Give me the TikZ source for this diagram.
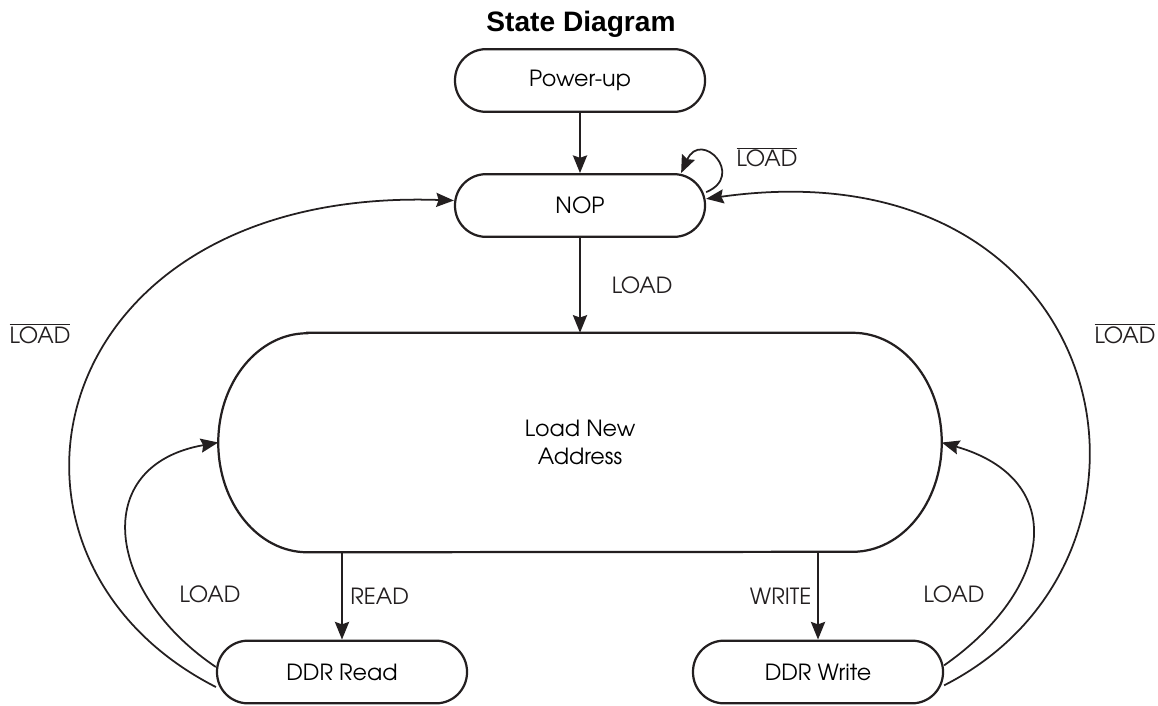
\documentclass[tikz,border=0pt]{standalone}
\usepackage{fontspec}
\setmainfont{TeX Gyre Adventor}
\newfontfamily\titlefont{Liberation Sans}
\usepackage{tikz}
\usetikzlibrary{positioning,arrows.meta}
\definecolor{ink}{HTML}{231F20}
\newcommand{\notload}{$\overline{\mbox{LOAD}}$}
\tikzstyle{state} = [rectangle, rounded corners=0.93cm,
    minimum width=7.5cm, minimum height=1.88cm, text centered,
    draw=ink, line width=1.9pt]
\tikzstyle{bigstate} = [rectangle, minimum width=21.69cm,
    minimum height=6.57cm, align=center]
\tikzstyle{arrow} = [ink, line width=2pt,
    -{Stealth[length=15pt,width=12pt,inset=2pt]}]
\tikzstyle{loop} = [ink, line width=1.5pt,
    -{Stealth[length=15pt,width=12pt,inset=2pt]}]
\tikzstyle{label} = [anchor=base, text=ink]

\begin{document}
\begin{tikzpicture}[x=0.03cm, y=0.03cm, font=\fontsize{19}{24}\selectfont]
    \useasboundingbox (0,0) rectangle (1158,-705);
    \node (title) [anchor=base] at (581,-32) {\titlefont\fontsize{24}{28}\selectfont\bfseries State Diagram};

    \node (powerup) [state] at (580,-80.5) {Power-up};
    \node (nop) [state, below of=powerup, node distance=3.75cm] {NOP};
    \node (addr) [bigstate, below of=nop, node distance=7.11cm] {Load New\\Address};
    \node (ddrread) [state] at (342,-672) {DDR Read};
    \node (ddrwrite) [state] at (818,-672) {DDR Write};

    % outline of the big state, elliptic ends
    \draw [ink, line width=1.9pt] ([xshift=2.67cm]addr.north west) -- ([xshift=-2.67cm]addr.north east)
        arc[start angle=90, end angle=-90, x radius=2.67cm, y radius=3.285cm]
        -- ([xshift=2.67cm]addr.south west)
        arc[start angle=270, end angle=90, x radius=2.67cm, y radius=3.285cm] -- cycle;

    \draw [arrow] (powerup) -- (nop);
    \draw [arrow] (nop) -- node [right=0.8cm] {LOAD} (addr);
    \draw [arrow] (ddrread.north |- addr.south) -- node [right=0.1cm] {READ} (ddrread.north);
    \draw [arrow] (ddrwrite.north |- addr.south) -- node [left=0.05cm] {WRITE} (ddrwrite.north);

    % back to the address state
    \draw [loop] ([yshift=0.15cm]ddrread.west) .. controls +(146:3.96cm) and +(190:3.96cm) .. (addr.west);
    \draw [loop] ([yshift=0.2cm]ddrwrite.east) .. controls +(35:4cm) and +(-16:4cm) .. (addr.east);
    % back to NOP
    \draw [loop] ([yshift=-0.45cm]ddrread.west) .. controls +(153:8.6cm) and +(178:12.4cm) .. ([yshift=0.15cm]nop.west);
    \draw [loop] ([yshift=-0.4cm]ddrwrite.east) .. controls +(27:8.6cm) and +(8:12.4cm) .. ([yshift=0.2cm]nop.east);
    \draw [loop] ([yshift=0.4cm]nop.east) .. controls +(1.2cm,0.5cm) and +(0.6cm,1.32cm) .. ([xshift=-0.75cm]nop.north east);

    \node (nloadtop) [label] at (767,-167) {\notload};
    \node (nloadleft) [label] at (40,-343) {\notload};
    \node (nloadright) [label] at (1125,-343) {\notload};
    \node (loadleft) [label] at (210,-602) {LOAD};
    \node (loadright) [label] at (954,-602) {LOAD};
\end{tikzpicture}
\end{document}
